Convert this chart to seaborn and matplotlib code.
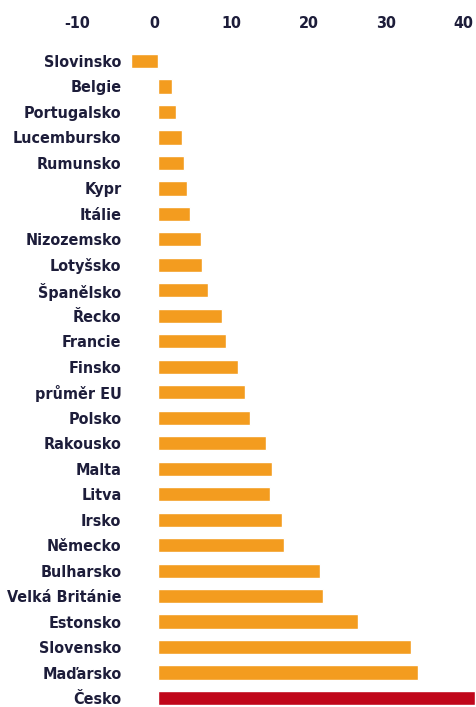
import pandas as pd
import seaborn as sns
import matplotlib.pyplot as plt
import matplotlib.transforms as mtransforms
from matplotlib import font_manager

countries = [
    'Slovinsko', 'Belgie', 'Portugalsko', 'Lucembursko', 'Rumunsko', 'Kypr',
    'Itálie', 'Nizozemsko', 'Lotyšsko', 'Španělsko', 'Řecko', 'Francie',
    'Finsko', 'průměr EU', 'Polsko', 'Rakousko', 'Malta', 'Litva', 'Irsko',
    'Německo', 'Bulharsko', 'Velká Británie', 'Estonsko', 'Slovensko',
    'Maďarsko', 'Česko',
]
values = [
    -3.5, 1.85, 2.3, 3.1, 3.4, 3.7,
    4.2, 5.5, 5.7, 6.5, 8.3, 8.8,
    10.4, 11.2, 11.9, 14.0, 14.8, 14.5, 16.1,
    16.3, 21.0, 21.3, 25.9, 32.7,
    33.7, 41.0,
]
x_ticks = [-10, 0, 10, 20, 30, 40]
highlight = 'Česko'

orange = '#F39C1F'
red = '#C0061A'
text_color = '#1d1d3a'

df = pd.DataFrame({'country': countries, 'value': values})
palette = {c: (red if c == highlight else orange) for c in countries}

sns.set_style('white')

# look for a narrow/condensed face, otherwise shrink DejaVu a bit
narrow = [f for f in font_manager.fontManager.ttflist
          if ('Narrow' in f.name or 'Condensed' in f.name
              or f.stretch in ('condensed', 'semi-condensed'))
          and f.weight in ('bold', 700)]
if narrow:
    fam = narrow[0].name
    fsize = 11.5
    stretch = narrow[0].stretch
else:
    fam = 'DejaVu Sans'
    fsize = 9.8
    stretch = 'normal'
plt.rcParams['font.family'] = [fam, 'DejaVu Sans']
plt.rcParams['font.stretch'] = stretch
plt.rcParams['axes.unicode_minus'] = False

fig = plt.figure(figsize=(4.76, 7.07), dpi=100)
ax = fig.add_axes([0.1208, 0.0, 0.8792, 0.9364])

sns.barplot(
    data=df, y='country', x='value', hue='country', palette=palette,
    order=countries, orient='h', width=0.56, legend=False, ax=ax,
    saturation=1,
)

ax.set_xlim(-13.0, 41.14)
ax.set_ylim(25.35, -0.628)
ax.set_xticks(x_ticks)
ax.xaxis.tick_top()
ax.tick_params(axis='x', length=0, pad=10, labelsize=fsize, labelcolor=text_color)
ax.tick_params(axis='y', length=0, pad=-46, labelsize=fsize, labelcolor=text_color)
shift = mtransforms.ScaledTranslation(-4 / 100, 0, fig.dpi_scale_trans)
for lbl in ax.get_xticklabels():
    lbl.set_fontweight('bold')
    lbl.set_transform(lbl.get_transform() + shift)
for lbl in ax.get_yticklabels():
    lbl.set_fontweight('bold')
ax.set_xlabel('')
ax.set_ylabel('')
for sp in ax.spines.values():
    sp.set_visible(False)
ax.grid(False)

plt.savefig('out.png', dpi=100)
